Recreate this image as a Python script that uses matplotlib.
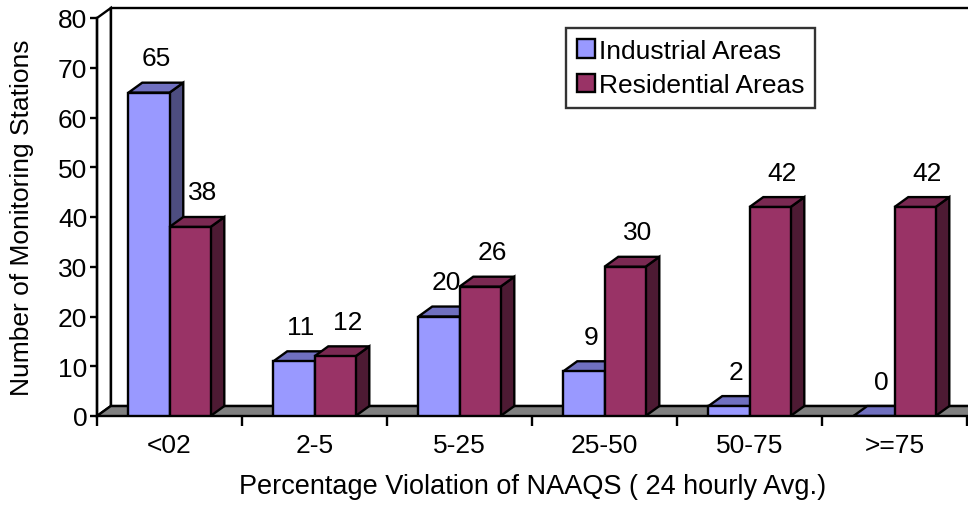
import matplotlib.pyplot as plt
from matplotlib.patches import Polygon, Patch

plt.rcParams['font.family'] = ['Liberation Sans', 'DejaVu Sans']

# data
categories = ['<02', '2-5', '5-25', '25-50', '50-75', '>=75']
industrial = [65, 11, 20, 9, 2, 0]
residential = [38, 12, 26, 30, 42, 42]
series_names = ['Industrial Areas', 'Residential Areas']

# colours: front, top, side
ind_cols = ('#9999ff', '#7070c0', '#4d4d80')
res_cols = ('#993366', '#7a2952', '#4d1a33')

bar_w = 0.283
dx = 0.095   # depth offset in category units
dy = 2.0     # depth offset in value units
lw = 1.7
fs = 19


def draw_bar(ax, x0, h, cols):
    front, top, side = cols
    x1 = x0 + bar_w
    ax.add_patch(Polygon([(x1, 0), (x1 + dx, dy), (x1 + dx, h + dy), (x1, h)],
                         fc=side, ec='black', lw=lw, joinstyle='miter'))
    ax.add_patch(Polygon([(x0, h), (x1, h), (x1 + dx, h + dy), (x0 + dx, h + dy)],
                         fc=top, ec='black', lw=lw, joinstyle='miter'))
    ax.add_patch(Polygon([(x0, 0), (x1, 0), (x1, h), (x0, h)],
                         fc=front, ec='black', lw=lw, joinstyle='miter'))


fig = plt.figure(figsize=(9.68, 5.06), dpi=100)
ax = fig.add_axes([97 / 968, 89 / 506, 871 / 968, 398 / 506])
n = len(categories)
ax.set_xlim(-0.5, -0.5 + 871 / 145)
ax.set_ylim(0, 80)

# back wall, side wall, floor
left = -0.5
right = n - 0.5
ax.add_patch(Polygon([(left + dx, dy), (right + dx + 1, dy), (right + dx + 1, 80 + dy), (left + dx, 80 + dy)],
                     fc='white', ec='black', lw=lw, clip_on=False, zorder=0.5))
ax.add_patch(Polygon([(left, 0), (left + dx, dy), (left + dx, 80 + dy), (left, 80)],
                     fc='white', ec='black', lw=lw, clip_on=False, zorder=0.6))
ax.add_patch(Polygon([(left, 0), (right + 1, 0), (right + 1 + dx, dy), (left + dx, dy)],
                     fc='#808080', ec='black', lw=lw, clip_on=False, zorder=0.7))

for i in range(n):
    draw_bar(ax, i - bar_w, industrial[i], ind_cols)
    draw_bar(ax, i, residential[i], res_cols)
    ax.annotate(str(industrial[i]), (i - bar_w / 2 + dx / 2, industrial[i] + dy),
                xytext=(0, 9), textcoords='offset points', ha='center', va='bottom', fontsize=fs)
    ax.annotate(str(residential[i]), (i + bar_w / 2 + dx / 2, residential[i] + dy),
                xytext=(4, 9), textcoords='offset points', ha='center', va='bottom', fontsize=fs)

# axes styling
for s in ['top', 'right', 'bottom']:
    ax.spines[s].set_visible(False)
ax.spines['left'].set_linewidth(lw)
ax.set_yticks(range(0, 81, 10))
ax.tick_params(axis='y', length=5, width=lw, labelsize=fs, pad=2)
ax.set_xticks(range(n))
ax.set_xticklabels(categories)
ax.set_xticks([i - 0.5 for i in range(n + 1)], minor=True)
ax.tick_params(axis='x', which='major', length=0, labelsize=fs, pad=12)
ax.tick_params(axis='x', which='minor', length=7, width=lw, direction='out')

ax.set_ylabel('Number of Monitoring Stations', fontsize=fs, labelpad=17)
ax.set_xlabel('Percentage Violation of NAAQS ( 24 hourly Avg.)', fontsize=19.5, labelpad=12)

handles = [Patch(fc=ind_cols[0], ec='black', lw=lw), Patch(fc=res_cols[0], ec='black', lw=lw)]
leg = ax.legend(handles, series_names, loc='upper left', bbox_to_anchor=(469 / 871, 388 / 398),
                fontsize=fs, frameon=True, fancybox=False, handlelength=0.7, handleheight=0.7,
                handletextpad=0.15, labelspacing=0.4, borderpad=0.4, borderaxespad=0)
leg.get_frame().set_edgecolor('black')
leg.get_frame().set_linewidth(lw)
leg.set_zorder(5)

fig.savefig('out.png', dpi=100)
